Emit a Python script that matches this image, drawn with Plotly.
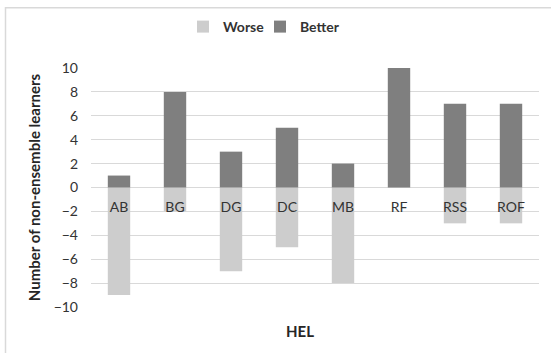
import plotly.graph_objects as go

categories = ["AB", "BG", "DG", "DC", "MB", "RF", "RSS", "ROF"]
worse = [-9, -2, -7, -5, -8, 0, -3, -3]
better = [1, 8, 3, 5, 2, 10, 7, 7]
y_ticks = [10, 8, 6, 4, 2, 0, -2, -4, -6, -8, -10]

W, H = 551, 353
L, R, T, B = 91, 12, 67, 46
pw, ph = W - L - R, H - T - B

def px(x):
    return (x - L) / pw

def py(y):
    return (H - B - y) / ph

font = "Lato, 'Open Sans', sans-serif"
legend_font = dict(size=14, color="#333333", weight="bold")

fig = go.Figure()
fig.add_trace(go.Bar(x=categories, y=worse, name="Worse", legend="legend",
                     marker=dict(color="#cdcdcd", line=dict(width=0))))
fig.add_trace(go.Bar(x=categories, y=better, name="Better", legend="legend2",
                     marker=dict(color="#7f7f7f", line=dict(width=0))))

fig.update_layout(
    width=W, height=H,
    margin=dict(l=L, r=R, t=T, b=B),
    barmode="relative",
    bargap=0.6,
    plot_bgcolor="white",
    paper_bgcolor="white",
    font=dict(family=font, color="#404040", size=13),
    showlegend=True,
    legend=dict(orientation="h", x=px(183), xanchor="left", y=py(27), yanchor="middle",
                font=legend_font, itemwidth=30, bgcolor="rgba(0,0,0,0)"),
    legend2=dict(orientation="h", x=px(260), xanchor="left", y=py(27), yanchor="middle",
                 font=legend_font, itemwidth=30, bgcolor="rgba(0,0,0,0)"),
    xaxis=dict(anchor="free", position=0.5, showgrid=False, showline=False, ticks="",
               ticklabelstandoff=9, tickfont=dict(size=14, color="#333333"),
               zeroline=False),
    yaxis=dict(range=[-10, 10], tickvals=y_ticks, showgrid=True, gridcolor="#d9d9d9", gridwidth=1,
               zeroline=True, zerolinecolor="#d9d9d9", zerolinewidth=1,
               showline=False, ticks="", ticklabelstandoff=12, tickfont=dict(size=14, color="#333333"),
               title=dict(text="Number of non-ensemble learners", standoff=9,
                          font=dict(size=15, color="#262626", weight="bold"))),
    annotations=[dict(text="HEL", x=px(300), y=py(331), xref="paper", yref="paper",
                      showarrow=False, xanchor="center", yanchor="middle",
                      font=dict(size=15, color="#262626", weight="bold"))],
    shapes=[dict(type="rect", xref="paper", yref="paper", x0=px(5.5), x1=px(570), y0=py(6.5), y1=py(370),
                 line=dict(color="#d9d9d9", width=1.5), fillcolor="rgba(0,0,0,0)", layer="below")],
)

fig.write_html("out.html", config={"displayModeBar": False},
               post_script="document.body.style.margin='0';document.body.style.padding='0';")
